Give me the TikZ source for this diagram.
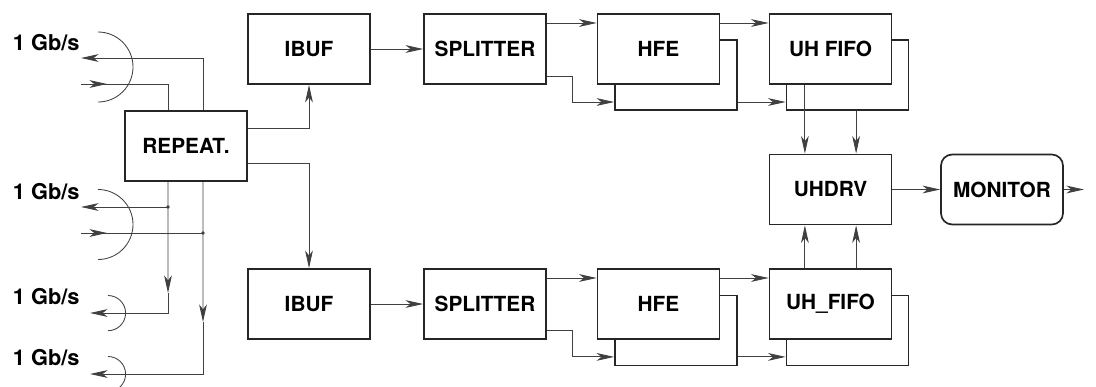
\documentclass[tikz,border=0pt]{standalone}
\usepackage{fontspec}
\setmainfont{TeX Gyre Heros}
\usetikzlibrary{arrows.meta}

\begin{document}
\begin{tikzpicture}[x=0.025cm, y=-0.025cm, line width=0.6pt, black!75,
    arr/.style={-{Stealth[length=12.5pt,width=5.5pt,inset=3.5pt]}},
    box/.style={draw=black!85, line width=1.2pt, fill=white, text=black,
      minimum width=3.05cm, minimum height=1.75cm, inner sep=0pt,
      font=\fontsize{14.8}{17}\selectfont\bfseries},
    lbl/.style={anchor=east, inner sep=0pt, text=black,
      font=\fontsize{15.5}{18}\selectfont\bfseries}]
  \useasboundingbox (0,0) rectangle (1096,387);

  \node[box] (rep) at (186,146) {REPEAT.};
  \node[box] (ibufA) at (309,49) {IBUF};
  \node[box] (ibufB) at (309,304) {IBUF};
  \node[box] (splA) at (485,49) {SPLITTER};
  \node[box] (splB) at (485,304) {SPLITTER};

  \node[box] (hfeAs) at (676,75) {};
  \node[box] (hfeA) at (658.5,49) {HFE};
  \node[box] (fifoAs) at (847.5,75) {};
  \node[box] (fifoA) at (830.5,49) {UH FIFO};
  \node[box] (hfeBs) at (676,330.5) {};
  \node[box] (hfeB) at (658.5,304) {HFE};
  \node[box] (fifoBs) at (847.5,330.5) {};
  \node[box] (fifoB) at (830.5,304) {UH\_FIFO};

  \node[box] (drv) at (830.5,189.5) {UHDRV};
  \node[box, rounded corners=8pt] (mon) at (1002,189.5) {MONITOR};
  \coordinate (out) at (1084,189.5);

  % links on the left
  \node[lbl] (gbA) at (80,43) {1 Gb/s};
  \node[lbl] (gbB) at (80,192) {1 Gb/s};
  \node[lbl] (gbC) at (80,297) {1 Gb/s};
  \node[lbl] (gbD) at (80,358) {1 Gb/s};

  \draw (98,32) arc[start angle=90, end angle=-90, radius=0.875cm];
  \draw (98,189.5) arc[start angle=90, end angle=-90, radius=0.875cm];
  \draw (108,295.5) arc[start angle=90, end angle=-90, radius=0.44cm];
  \draw (108,356.5) arc[start angle=90, end angle=-90, radius=0.44cm];

  \coordinate (outA) at (81,58);
  \coordinate (inA) at (81,84);
  \coordinate (inAh) at (107,84);
  \coordinate (outB) at (81,207);
  \coordinate (inB) at (81,233);
  \coordinate (inBh) at (107,233);
  \coordinate (jB) at (168,207);
  \coordinate (jC) at (203,233);
  \coordinate (midC) at (168,293);
  \coordinate (midD) at (203,322);
  \coordinate (outC) at (90,313);
  \coordinate (outD) at (90,374);

  \draw[arr] ([xshift=0.425cm]rep.north) |- (outA);
  \draw (inA) -| ([xshift=-0.45cm]rep.north);
  \draw[arr] (inA) -- (inAh);
  \draw[arr] (jB) -- (outB);
  \draw (inB) -- (jC);
  \draw[arr] (inB) -- (inBh);
  \draw[arr] ([xshift=-0.45cm]rep.south) -- (midC);
  \draw[arr] (midC) |- (outC);
  \draw[arr] ([xshift=0.425cm]rep.south) -- (midD);
  \draw[arr] (midD) |- (outD);
  \fill (jB) circle[radius=1.4pt];
  \fill (jC) circle[radius=1.4pt];

  % upper chain
  \draw[arr] ([yshift=0.45cm]rep.east) -| (ibufA.south);
  \draw[arr] (ibufA) -- (splA);
  \draw[arr] ([yshift=0.65cm]splA.east) -- ([yshift=0.65cm]hfeA.west);
  \draw[arr] ([yshift=-0.675cm]splA.east) -- ++(0.65cm,0) |- ([yshift=-0.675cm]hfeAs.west);
  \draw[arr] ([yshift=0.65cm]hfeA.east) -- ([yshift=0.65cm]fifoA.west);
  \draw[arr] ([yshift=-0.675cm]hfeAs.east) -- ([yshift=-0.675cm]fifoAs.west);
  \draw[arr] ([xshift=-0.64cm]fifoA.south) -- ([xshift=-0.64cm]drv.north);
  \draw[arr] ([xshift=0.64cm]drv.north |- fifoAs.south) -- ([xshift=0.64cm]drv.north);

  % lower chain
  \draw[arr] ([yshift=-0.425cm]rep.east) -| (ibufB.north);
  \draw[arr] (ibufB) -- (splB);
  \draw[arr] ([yshift=0.65cm]splB.east) -- ([yshift=0.65cm]hfeB.west);
  \draw[arr] ([yshift=-0.65cm]splB.east) -- ++(0.65cm,0) |- ([yshift=-0.66cm]hfeBs.west);
  \draw[arr] ([yshift=0.65cm]hfeB.east) -- ([yshift=0.65cm]fifoB.west);
  \draw[arr] ([yshift=-0.66cm]hfeBs.east) -- ([yshift=-0.66cm]fifoBs.west);
  \draw[arr] ([xshift=-0.64cm]fifoB.north) -- ([xshift=-0.64cm]drv.south);
  \draw[arr] ([xshift=0.64cm]fifoB.north) -- ([xshift=0.64cm]drv.south);

  \draw[arr] (drv) -- (mon);
  \draw[arr] (mon) -- (out);
\end{tikzpicture}
\end{document}
